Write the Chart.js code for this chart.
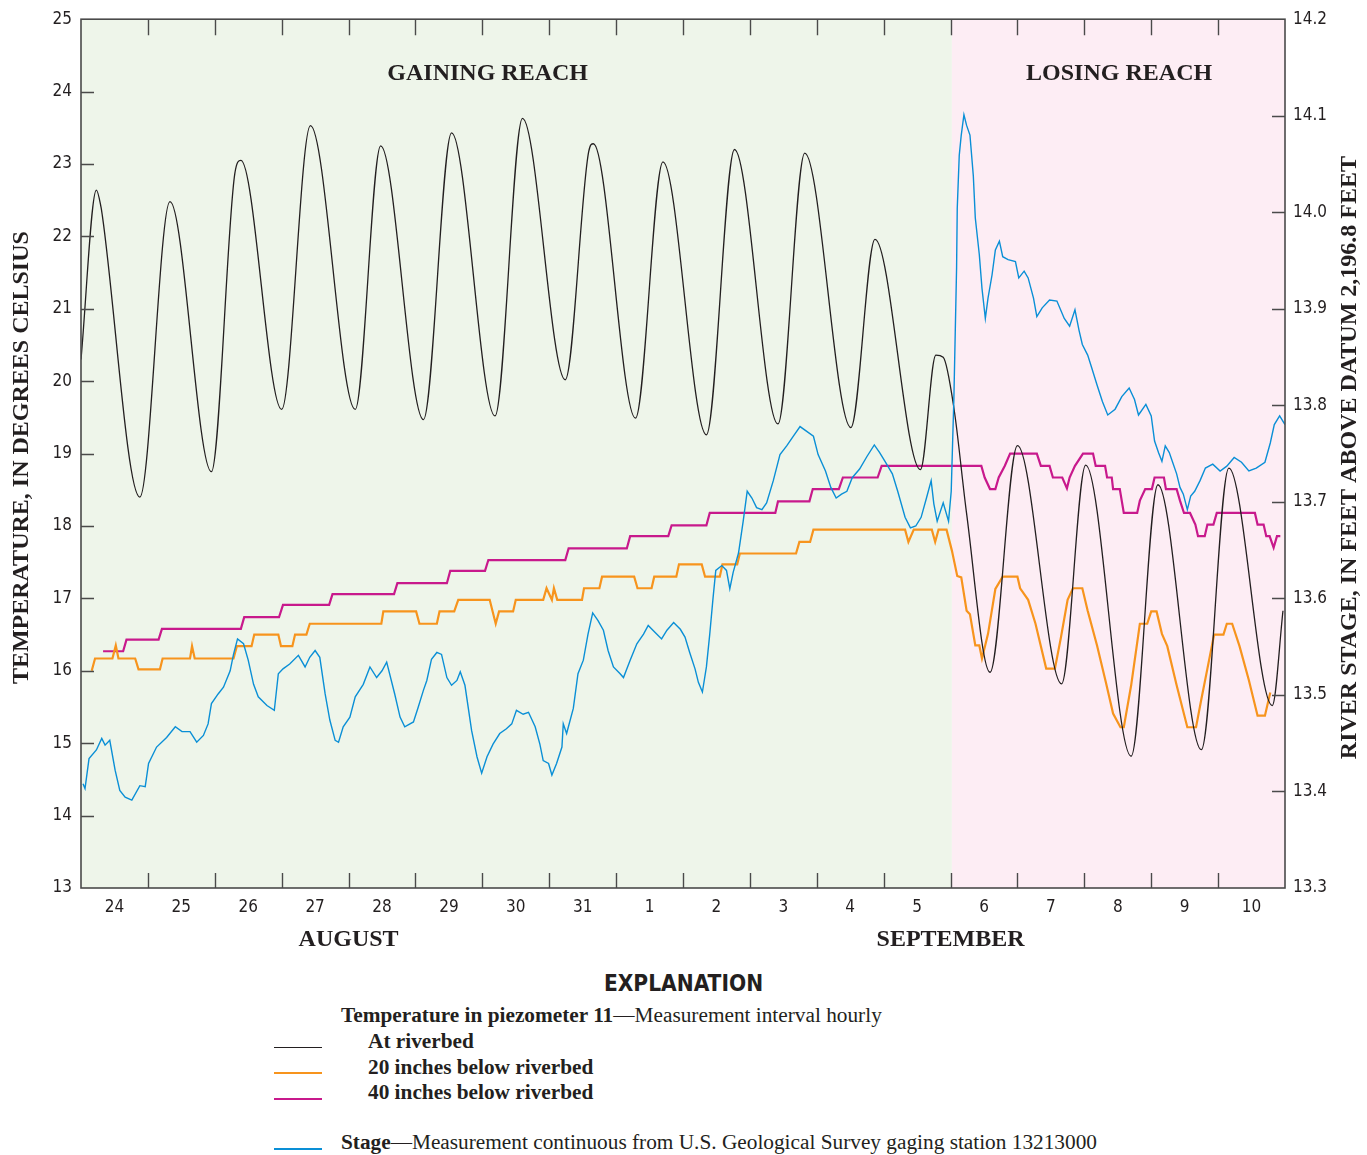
<!DOCTYPE html>
<html><head><meta charset="utf-8">
<script src="https://cdn.jsdelivr.net/npm/chart.js@4.4.1/dist/chart.umd.min.js"></script>
<style>
html,body{margin:0;padding:0;background:#fff;}
#wrap{position:relative;width:1367px;height:1155px;overflow:hidden;background:#fff;}
#c{position:absolute;left:0;top:0;}
.ser{font-family:'Liberation Serif','Times New Roman',serif;color:#231f20;position:absolute;white-space:nowrap;font-size:21.3px;line-height:21px;}
.b{font-weight:bold}
.sw{position:absolute;left:274px;width:48px;height:0;}
#expl{position:absolute;left:0;width:1367px;top:972px;text-align:center;font-family:'Liberation Sans Narrow','DejaVu Sans Condensed',sans-serif;font-weight:bold;font-size:22.5px;line-height:23px;color:#231f20;}
</style></head><body>
<div id="wrap">
<canvas id="c" width="1367" height="960"></canvas>
<div id="expl">EXPLANATION</div>
<div class="ser" style="left:341px;top:1005px"><span class="b">Temperature in piezometer 11</span>—Measurement interval hourly</div>
<div class="sw" style="top:1047px;border-top:1.5px solid #231f20"></div>
<div class="ser b" style="left:368px;top:1031px">At riverbed</div>
<div class="sw" style="top:1072px;border-top:2px solid #f7941d"></div>
<div class="ser b" style="left:368px;top:1057px">20 inches below riverbed</div>
<div class="sw" style="top:1098px;border-top:2px solid #c8198c"></div>
<div class="ser b" style="left:368px;top:1082px">40 inches below riverbed</div>
<div class="sw" style="top:1148px;border-top:2px solid #0a8fd6"></div>
<div class="ser" style="left:341px;top:1132px"><span class="b">Stage</span>—Measurement continuous from U.S. Geological Survey gaging station 13213000</div>
</div>
<script>
// ---- x axis: days since start of August 24 ----
const dayLabels = ['24','25','26','27','28','29','30','31','1','2','3','4','5','6','7','8','9','10'];
const monthLabels = ['AUGUST','SEPTEMBER'];
const monthStart = [0, 8];
const monthEnd = [8, 18];
const reachLabels = ['GAINING REACH','LOSING REACH'];
const reachStart = [0, 13.02];
const reachEnd = [13.02, 18];
const reachLabelDay = [6.08, 15.52];
const reachColors = ['#eef5ea','#fdedf4'];

// Temperature at riverbed (deg C)
const riverbedDay = [0.00,0.23,0.30,0.32,0.88,1.33,1.95,2.30,2.39,3.00,3.43,4.10,4.48,5.12,5.54,6.19,6.60,7.24,7.59,7.66,8.29,8.70,9.35,9.77,10.42,10.82,11.51,11.87,12.55,12.78,12.89,13.05,13.24,13.59,14.00,14.66,15.02,15.70,16.10,16.75,17.16,17.81,17.97];
const riverbedTemp = [20.30,22.64,22.40,22.28,18.40,22.48,18.75,22.87,23.05,19.61,23.53,19.61,23.25,19.47,23.43,19.52,23.63,20.02,23.17,23.28,19.49,23.03,19.26,23.20,19.41,23.15,19.36,21.96,18.78,20.36,20.33,19.63,18.17,15.98,19.11,15.82,18.84,14.82,18.57,14.91,18.80,15.52,16.83];

// 20 inches below riverbed
const d20Day = [0.16,0.21,0.47,0.52,0.56,0.81,0.86,1.18,1.22,1.63,1.66,1.70,2.28,2.33,2.55,2.59,2.95,2.99,3.16,3.20,3.37,3.42,4.49,4.52,5.01,5.06,5.32,5.36,5.58,5.64,6.11,6.20,6.25,6.46,6.50,6.91,6.96,7.04,7.07,7.12,7.49,7.52,7.75,7.79,8.27,8.32,8.53,8.57,8.90,8.94,9.28,9.33,9.55,9.59,9.81,9.85,10.69,10.74,10.90,10.95,12.32,12.37,12.45,12.72,12.77,12.82,12.94,13.02,13.10,13.16,13.24,13.29,13.37,13.43,13.47,13.56,13.67,13.78,14.00,14.04,14.16,14.27,14.43,14.56,14.65,14.75,14.83,14.97,15.05,15.19,15.32,15.43,15.54,15.59,15.70,15.83,15.94,16.00,16.08,16.16,16.24,16.38,16.54,16.67,16.75,16.84,16.94,17.08,17.13,17.21,17.32,17.46,17.59,17.70,17.78];
const d20Temp = [16.00,16.17,16.17,16.35,16.17,16.17,16.02,16.02,16.17,16.17,16.34,16.17,16.17,16.34,16.34,16.50,16.50,16.34,16.34,16.50,16.50,16.65,16.65,16.82,16.82,16.65,16.65,16.82,16.82,16.98,16.98,16.65,16.82,16.82,16.98,16.98,17.14,16.98,17.14,16.98,16.98,17.14,17.14,17.30,17.30,17.14,17.14,17.30,17.30,17.47,17.47,17.30,17.30,17.47,17.47,17.62,17.62,17.78,17.78,17.95,17.95,17.78,17.95,17.95,17.78,17.95,17.95,17.66,17.31,17.29,16.83,16.78,16.35,16.35,16.17,16.51,17.13,17.30,17.30,17.14,16.98,16.65,16.03,16.03,16.46,16.98,17.14,17.14,16.83,16.35,15.85,15.41,15.22,15.22,15.80,16.65,16.65,16.82,16.82,16.51,16.34,15.80,15.22,15.22,15.61,16.03,16.50,16.50,16.65,16.65,16.34,15.87,15.38,15.38,15.70];

// 40 inches below riverbed
const d40Day = [0.33,0.63,0.68,1.16,1.21,2.39,2.44,2.96,3.02,3.71,3.76,4.68,4.73,5.47,5.52,6.04,6.09,7.24,7.29,8.16,8.21,8.78,8.83,9.35,9.40,10.38,10.42,10.89,10.94,11.33,11.39,11.91,11.97,13.46,13.51,13.59,13.67,13.72,13.81,13.89,14.29,14.35,14.48,14.53,14.67,14.74,14.78,14.86,14.98,15.13,15.17,15.31,15.34,15.41,15.43,15.53,15.59,15.79,15.83,15.91,16.01,16.05,16.19,16.22,16.38,16.43,16.49,16.58,16.66,16.70,16.80,16.84,16.93,16.98,17.55,17.59,17.68,17.72,17.77,17.83,17.88,17.93];
const d40Temp = [16.27,16.27,16.43,16.43,16.58,16.58,16.74,16.74,16.91,16.91,17.06,17.06,17.21,17.21,17.38,17.38,17.53,17.53,17.69,17.69,17.86,17.86,18.01,18.01,18.18,18.18,18.34,18.34,18.51,18.51,18.67,18.67,18.83,18.83,18.67,18.51,18.51,18.67,18.83,19.00,19.00,18.83,18.83,18.67,18.67,18.52,18.67,18.83,19.00,19.00,18.83,18.83,18.67,18.67,18.51,18.51,18.18,18.18,18.35,18.51,18.51,18.67,18.67,18.51,18.51,18.35,18.18,18.18,18.02,17.86,17.86,18.02,18.02,18.18,18.18,18.02,18.02,17.86,17.86,17.70,17.86,17.86];

// River stage (feet above datum 2,196.8 feet)
const stageDay = [0.03,0.06,0.12,0.23,0.31,0.36,0.43,0.51,0.58,0.66,0.76,0.88,0.96,1.01,1.13,1.28,1.41,1.51,1.63,1.73,1.83,1.90,1.95,2.05,2.13,2.23,2.28,2.34,2.43,2.50,2.58,2.65,2.78,2.89,2.95,3.02,3.12,3.25,3.35,3.42,3.50,3.57,3.65,3.72,3.80,3.85,3.92,4.02,4.10,4.22,4.32,4.42,4.50,4.57,4.69,4.77,4.84,4.97,5.04,5.12,5.17,5.24,5.32,5.39,5.47,5.54,5.62,5.67,5.74,5.84,5.92,5.99,6.07,6.16,6.26,6.36,6.44,6.51,6.61,6.69,6.79,6.86,6.91,6.99,7.04,7.11,7.19,7.21,7.26,7.36,7.43,7.51,7.58,7.65,7.73,7.81,7.88,7.96,8.06,8.11,8.21,8.31,8.41,8.48,8.58,8.68,8.76,8.86,8.96,9.03,9.10,9.18,9.23,9.29,9.35,9.40,9.45,9.49,9.58,9.65,9.70,9.75,9.83,9.90,9.96,10.03,10.10,10.18,10.25,10.35,10.45,10.55,10.65,10.75,10.85,10.95,11.02,11.13,11.21,11.29,11.37,11.45,11.53,11.64,11.75,11.86,11.94,12.02,12.13,12.21,12.32,12.40,12.48,12.56,12.64,12.71,12.75,12.80,12.89,12.97,13.01,13.05,13.09,13.10,13.13,13.16,13.20,13.24,13.29,13.34,13.37,13.43,13.47,13.52,13.56,13.62,13.67,13.73,13.78,13.86,13.97,14.02,14.10,14.16,14.24,14.29,14.37,14.48,14.59,14.70,14.78,14.86,14.92,14.97,15.05,15.11,15.19,15.27,15.35,15.46,15.56,15.67,15.75,15.81,15.92,16.00,16.05,16.11,16.16,16.21,16.27,16.32,16.38,16.43,16.48,16.54,16.59,16.65,16.73,16.81,16.92,17.03,17.13,17.24,17.35,17.46,17.57,17.70,17.78,17.84,17.92,18.00];
const stageFt = [13.408,13.403,13.434,13.443,13.455,13.448,13.453,13.422,13.401,13.394,13.391,13.406,13.405,13.429,13.446,13.456,13.467,13.462,13.462,13.451,13.458,13.470,13.491,13.501,13.508,13.525,13.542,13.558,13.553,13.536,13.511,13.498,13.489,13.484,13.522,13.527,13.532,13.541,13.529,13.539,13.546,13.539,13.501,13.474,13.453,13.451,13.467,13.477,13.498,13.511,13.529,13.518,13.525,13.534,13.501,13.477,13.467,13.472,13.487,13.505,13.515,13.537,13.544,13.542,13.518,13.510,13.515,13.524,13.510,13.463,13.436,13.419,13.436,13.449,13.460,13.465,13.470,13.484,13.480,13.482,13.467,13.449,13.432,13.429,13.417,13.429,13.446,13.470,13.460,13.486,13.522,13.536,13.563,13.585,13.577,13.567,13.546,13.529,13.522,13.518,13.536,13.553,13.563,13.572,13.565,13.558,13.567,13.575,13.568,13.560,13.544,13.527,13.513,13.503,13.529,13.563,13.601,13.629,13.634,13.629,13.610,13.627,13.647,13.680,13.711,13.704,13.694,13.692,13.699,13.722,13.749,13.758,13.768,13.778,13.773,13.768,13.749,13.732,13.715,13.704,13.708,13.711,13.725,13.734,13.747,13.759,13.751,13.742,13.729,13.711,13.684,13.673,13.675,13.684,13.704,13.722,13.698,13.680,13.699,13.680,13.711,13.808,13.942,14.004,14.059,14.080,14.101,14.090,14.080,14.038,13.994,13.956,13.921,13.890,13.911,13.935,13.961,13.970,13.954,13.951,13.949,13.932,13.939,13.932,13.911,13.892,13.901,13.909,13.908,13.890,13.882,13.899,13.878,13.863,13.852,13.839,13.821,13.804,13.790,13.796,13.809,13.818,13.806,13.790,13.801,13.789,13.763,13.751,13.742,13.758,13.751,13.741,13.729,13.715,13.708,13.692,13.706,13.711,13.722,13.735,13.739,13.732,13.737,13.746,13.741,13.732,13.735,13.741,13.761,13.780,13.789,13.780];

const tempTicksMin = 13, tempTicksMax = 25;
const stageMin = 13.3, stageMax = 14.2;

const pts = (xs, ys) => xs.map((x, i) => ({x: x, y: ys[i]}));

const INK = '#231f20';
const FRAME = '#4a4a4a';
const SERIF_B = "bold 24px 'Liberation Serif','Times New Roman',serif";
const NARROW = "'Liberation Sans Narrow','DejaVu Sans Condensed','Roboto',sans-serif";

const CANVAS_W = 1367, CANVAS_H = 960;
const AREA = {left: 81, right: 1285, top: 17, bottom: 888};

const regionPlugin = {
  id: 'regions',
  beforeDatasetsDraw(chart) {
    const {ctx, chartArea: a, scales: {x}} = chart;
    ctx.save();
    for (let i = 0; i < reachStart.length; i++) {
      const x0 = x.getPixelForValue(reachStart[i]);
      const x1 = x.getPixelForValue(reachEnd[i]);
      ctx.fillStyle = reachColors[i];
      ctx.fillRect(x0, a.top, x1 - x0, a.bottom - a.top);
    }
    ctx.fillStyle = INK;
    ctx.font = SERIF_B;
    ctx.textAlign = 'center';
    ctx.textBaseline = 'middle';
    for (let i = 0; i < reachLabels.length; i++) {
      ctx.fillText(reachLabels[i], x.getPixelForValue(reachLabelDay[i]), a.top + 55);
    }
    ctx.restore();
  }
};

const framePlugin = {
  id: 'frame',
  afterDatasetsDraw(chart) {
    const {ctx, chartArea: a, scales: {x, y, y2}} = chart;
    ctx.save();
    ctx.strokeStyle = FRAME;
    ctx.lineWidth = 1.6;
    ctx.strokeRect(a.left, a.top, a.right - a.left, a.bottom - a.top);
    ctx.lineWidth = 1.4;
    ctx.beginPath();
    for (let d = 1; d < dayLabels.length; d++) {
      const px = Math.round(x.getPixelForValue(d)) + 0.5;
      ctx.moveTo(px, a.bottom); ctx.lineTo(px, a.bottom - 15);
      ctx.moveTo(px, a.top); ctx.lineTo(px, a.top + 16);
    }
    y.ticks.forEach(t => {
      if (t.value <= y.min || t.value >= y.max) return;
      const py = Math.round(y.getPixelForValue(t.value)) + 0.5;
      ctx.moveTo(a.left, py); ctx.lineTo(a.left + 13, py);
    });
    y2.ticks.forEach(t => {
      if (t.value <= y2.min + 1e-6 || t.value >= y2.max - 1e-6) return;
      const py = Math.round(y2.getPixelForValue(t.value)) + 0.5;
      ctx.moveTo(a.right, py); ctx.lineTo(a.right - 13, py);
    });
    ctx.stroke();
    ctx.restore();
  },
  afterDraw(chart) {
    const {ctx, chartArea: a, scales: {x}} = chart;
    ctx.save();
    ctx.fillStyle = INK;
    ctx.font = SERIF_B;
    ctx.textAlign = 'center';
    ctx.textBaseline = 'middle';
    for (let i = 0; i < monthLabels.length; i++) {
      const cx = (x.getPixelForValue(monthStart[i]) + x.getPixelForValue(monthEnd[i])) / 2;
      ctx.fillText(monthLabels[i], cx, a.bottom + 52);
    }
    const cy = (a.top + a.bottom) / 2 + 4;
    ctx.save();
    ctx.translate(22, cy);
    ctx.rotate(-Math.PI / 2);
    ctx.fillText('TEMPERATURE, IN DEGREES CELSIUS', 0, 0);
    ctx.restore();
    ctx.save();
    ctx.translate(1350, cy);
    ctx.rotate(-Math.PI / 2);
    ctx.fillText('RIVER STAGE, IN FEET ABOVE DATUM 2,196.8 FEET', 0, 0);
    ctx.restore();
    ctx.restore();
  }
};

new Chart(document.getElementById('c'), {
  type: 'line',
  data: {
    datasets: [
      {label: 'At riverbed', data: pts(riverbedDay, riverbedTemp), yAxisID: 'y', borderColor: INK, borderWidth: 1.3, cubicInterpolationMode: 'monotone', pointRadius: 0, order: 1},
      {label: '20 inches below riverbed', data: pts(d20Day, d20Temp), yAxisID: 'y', borderColor: '#f7941d', borderWidth: 2.2, tension: 0, pointRadius: 0, order: 2},
      {label: '40 inches below riverbed', data: pts(d40Day, d40Temp), yAxisID: 'y', borderColor: '#c8198c', borderWidth: 2.2, tension: 0, pointRadius: 0, order: 3},
      {label: 'Stage', data: pts(stageDay, stageFt), yAxisID: 'y2', borderColor: '#0a8fd6', borderWidth: 1.4, tension: 0, pointRadius: 0, order: 0}
    ]
  },
  options: {
    responsive: false,
    animation: false,
    events: [],
    layout: {padding: {top: AREA.top, left: 0, right: 0, bottom: 0}},
    plugins: {legend: {display: false}, tooltip: {enabled: false}},
    scales: {
      x: {
        type: 'linear', min: 0, max: dayLabels.length,
        afterBuildTicks: s => { s.ticks = dayLabels.map((_, i) => ({value: i + 0.5})); },
        afterFit: s => { s.height = CANVAS_H - AREA.bottom; },
        grid: {display: false, drawTicks: false},
        border: {display: false},
        ticks: {
          autoSkip: false, maxRotation: 0, padding: 9, color: INK,
          font: {family: NARROW, size: 17},
          callback: (v) => dayLabels[Math.floor(v)]
        }
      },
      y: {
        position: 'left', min: tempTicksMin, max: tempTicksMax,
        afterFit: s => { s.width = AREA.left; },
        grid: {display: false, drawTicks: false},
        border: {display: false},
        ticks: {stepSize: 1, padding: 9, color: INK, font: {family: NARROW, size: 17}}
      },
      y2: {
        position: 'right', min: stageMin, max: stageMax,
        afterFit: s => { s.width = CANVAS_W - AREA.right; },
        grid: {display: false, drawTicks: false},
        border: {display: false},
        ticks: {stepSize: 0.1, padding: 8, color: INK, font: {family: NARROW, size: 17},
          callback: v => Number(v).toFixed(1)}
      }
    }
  },
  plugins: [regionPlugin, framePlugin]
});
</script>
</body></html>
